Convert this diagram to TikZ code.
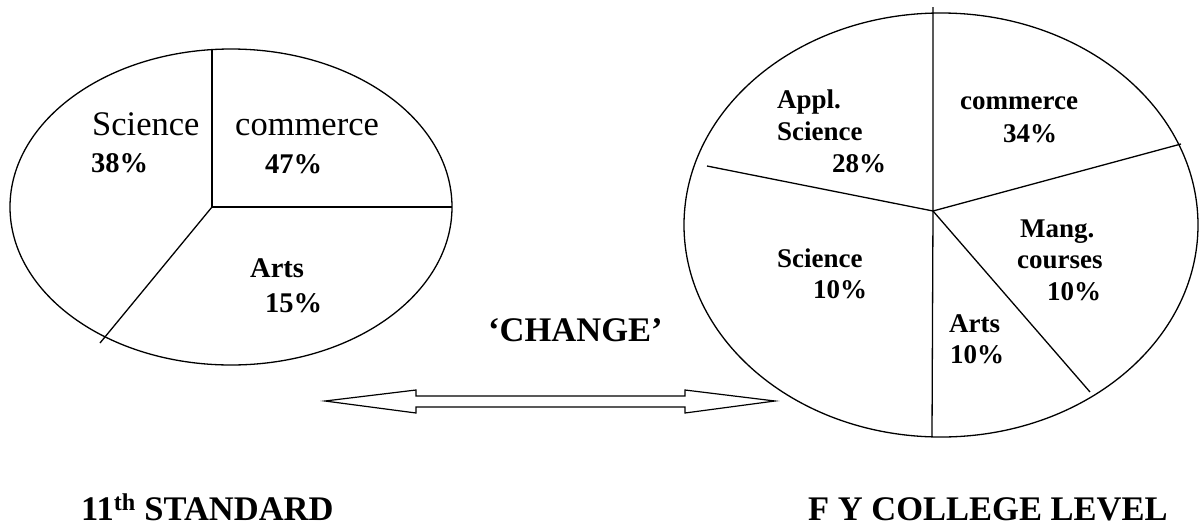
\documentclass[tikz,border=0pt]{standalone}
\usepackage{fontspec}
\setmainfont{Liberation Serif}
\begin{document}
\begin{tikzpicture}[x=1pt,y=-1pt,
  edge/.style={line width=1.3pt,black},
  lreg/.style={anchor=base west,inner sep=0pt,font=\fontsize{34.5}{36}\selectfont},
  lbold/.style={anchor=base west,inner sep=0pt,font=\fontsize{28.5}{30}\selectfont\bfseries},
  rbold/.style={anchor=base west,inner sep=0pt,font=\fontsize{27}{29}\selectfont\bfseries},
  title/.style={anchor=base west,inner sep=0pt,font=\fontsize{34.5}{36}\selectfont\bfseries}]
\useasboundingbox (0,0) rectangle (1200,528);

% ---- 11th standard pie ----
\coordinate (lc) at (212,207);
\draw[edge] (231,207) ellipse [x radius=221, y radius=158];
\coordinate (ltop) at (212,49);
\coordinate (lright) at (452,207);
\coordinate (lll) at (100,343);
\draw[edge] (ltop) -- (lc) -- (lright);
\draw[edge] (lc) -- (lll);

\node[lreg]  (lsci)  at (92,135)  {Science};
\node[lbold] (lscip) at (91,172)  {38\%};
\node[lreg]  (lcom)  at (235,135) {commerce};
\node[lbold] (lcomp) at (265,173) {47\%};
\node[lbold] (larts) at (250,277) {Arts};
\node[lbold] (lartp) at (265,312) {15\%};

% ---- F Y college pie ----
\coordinate (rc) at (933,211);
\draw[edge] (941,225) ellipse [x radius=257, y radius=212];
\coordinate (rtop) at (933,7);
\coordinate (rbot) at (932,436);
\coordinate (rur) at (1181,144);
\coordinate (rl) at (707,166);
\coordinate (rlr) at (1090,392);
\draw[edge] (rtop) -- (rc) -- (rbot);
\draw[edge] (rc) -- (rur);
\draw[edge] (rc) -- (rl);
\draw[edge] (rc) -- (rlr);

\node[rbold] (rappa) at (777,108) {Appl.};
\node[rbold] (rappb) at (777,140) {Science};
\node[rbold] (rappp) at (832,172) {28\%};
\node[rbold] (rcom)  at (960,109) {commerce};
\node[rbold] (rcomp) at (1003,142) {34\%};
\node[rbold] (rmana) at (1020,237) {Mang.};
\node[rbold] (rmanb) at (1017,268) {courses};
\node[rbold] (rmanp) at (1047,300) {10\%};
\node[rbold] (rsci)  at (777,267) {Science};
\node[rbold] (rscip) at (813,298) {10\%};
\node[rbold] (rarts) at (949,332) {Arts};
\node[rbold] (rartp) at (950,363) {10\%};

% ---- change label and hollow double arrow ----
\node[title] (change) at (488,341) {‘CHANGE’};
\draw[line width=1.2pt,black,line join=miter]
  (325,401) -- (416,390) -- (416,396) -- (685,396) -- (685,390) -- (775,401)
  -- (685,413) -- (685,407) -- (416,407) -- (416,413) -- cycle;

% ---- level captions ----
\node[title] (lcap) at (81,520) {11\textsuperscript{th} STANDARD};
\node[title] (rcap) at (808,520) {F Y COLLEGE LEVEL};
\end{tikzpicture}
\end{document}
